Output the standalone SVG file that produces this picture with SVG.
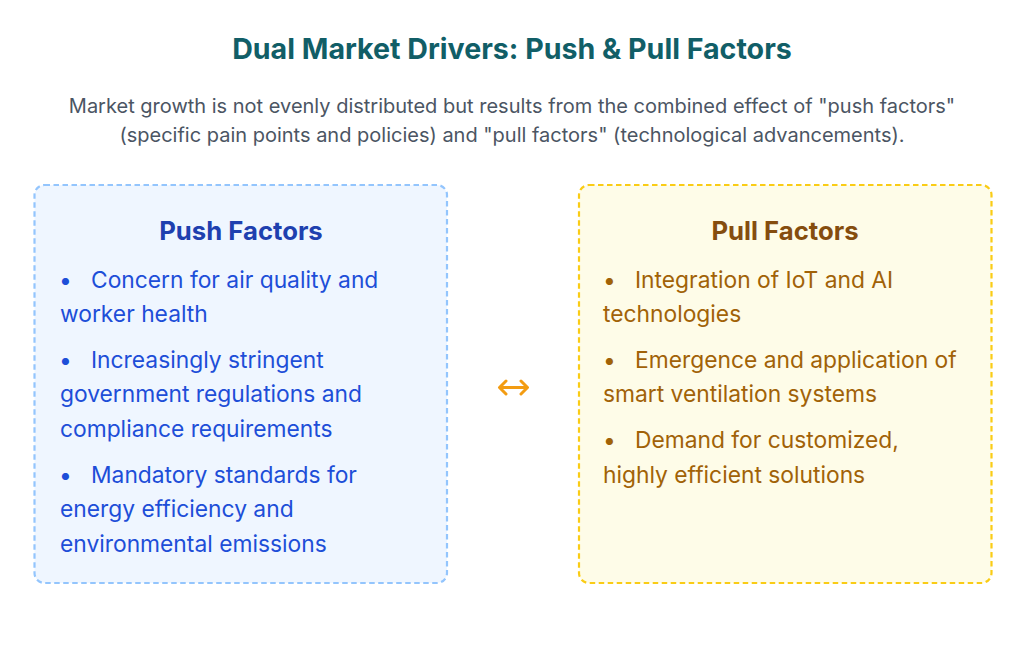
<svg xmlns="http://www.w3.org/2000/svg" width="1024" height="649" viewBox="0 0 1024 649">
<style>
text{font-family:Inter,"Noto Sans","Liberation Sans",sans-serif}
.title{font-size:28.6px;font-weight:700;fill:#115e67;text-anchor:middle}
.sub{font-size:20px;fill:#4b5563;text-anchor:middle}
.hd{font-size:25.7px;font-weight:700;text-anchor:middle}
.it{font-size:22.8px}
.push .hd{fill:#1e40af}
.push .it{fill:#1d4ed8}
.pull .hd{fill:#854d0e}
.pull .it{fill:#a16207}
.box{stroke-width:2.2;stroke-dasharray:5.5 3.5}
.arrow{fill:none;stroke:#f39c12;stroke-width:3;stroke-linecap:round;stroke-linejoin:round}
</style>
<rect width="1024" height="649" fill="#ffffff"/>
<g id="header">
<text class="title" x="512" y="59">Dual Market Drivers: Push &amp; Pull Factors</text>
<text class="sub" x="512" y="113">Market growth is not evenly distributed but results from the combined effect of "push factors"</text>
<text class="sub" x="512" y="142">(specific pain points and policies) and "pull factors" (technological advancements).</text>
</g>
<g id="push" class="push">
<rect class="box" x="34.5" y="185" width="412.5" height="398" rx="10" fill="#eff6ff" stroke="#93c5fd"/>
<text class="hd" x="241" y="240">Push Factors</text>
<text class="it"><tspan x="59" y="288">•</tspan><tspan x="91" y="288">Concern for air quality and</tspan><tspan x="60" y="322">worker health</tspan></text>
<text class="it"><tspan x="59" y="368">•</tspan><tspan x="91" y="368">Increasingly stringent</tspan><tspan x="60" y="402">government regulations and</tspan><tspan x="60" y="437">compliance requirements</tspan></text>
<text class="it"><tspan x="59" y="483">•</tspan><tspan x="91" y="483">Mandatory standards for</tspan><tspan x="60" y="517">energy efficiency and</tspan><tspan x="60" y="552">environmental emissions</tspan></text>
</g>
<g id="connectors">
<path class="arrow" d="M500,387.5 H527 M506,381 L499.5,387.5 L506,394 M521,381 L527.5,387.5 L521,394"/>
</g>
<g id="pull" class="pull">
<rect class="box" x="579" y="185" width="412.5" height="398" rx="10" fill="#fefce8" stroke="#facc15"/>
<text class="hd" x="785" y="240">Pull Factors</text>
<text class="it"><tspan x="603" y="288">•</tspan><tspan x="635" y="288">Integration of IoT and AI</tspan><tspan x="603" y="322">technologies</tspan></text>
<text class="it"><tspan x="603" y="368">•</tspan><tspan x="635" y="368">Emergence and application of</tspan><tspan x="603" y="402">smart ventilation systems</tspan></text>
<text class="it"><tspan x="603" y="448">•</tspan><tspan x="635" y="448">Demand for customized,</tspan><tspan x="603" y="483">highly efficient solutions</tspan></text>
</g>
</svg>
